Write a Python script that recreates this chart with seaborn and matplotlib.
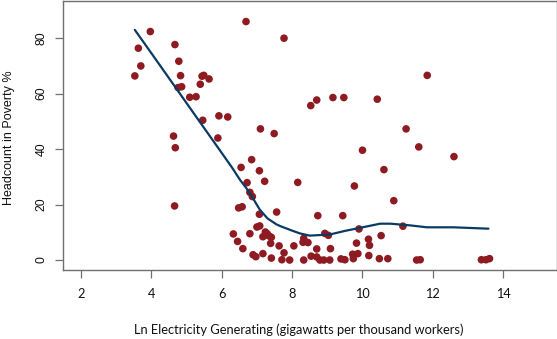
import matplotlib
matplotlib.use("Agg")
import matplotlib.pyplot as plt
import seaborn as sns
import pandas as pd

# Scatter data: Ln electricity generating vs headcount in poverty (%)
elec = [3.97, 3.63, 3.70, 3.53, 4.67, 4.78, 4.83, 4.76, 4.86, 5.39, 5.44, 5.49, 5.64,
        5.09, 5.27, 5.46, 5.92, 6.17, 4.63, 4.68, 5.89, 7.10, 7.49, 6.69, 7.77, 4.66,
        6.55, 6.85, 7.07, 7.22, 8.16, 6.72, 6.80, 6.87, 6.48, 6.58, 7.07, 7.56, 7.00,
        7.08, 6.33, 6.80, 7.24, 7.29, 7.17, 7.34, 7.41, 6.45, 7.39, 7.63, 8.05, 6.60,
        7.77, 6.89, 6.97, 7.17, 7.41, 7.71, 7.93, 11.84, 8.70, 8.53, 9.16, 9.47, 10.42,
        11.24, 11.60, 10.00, 12.60, 10.61, 9.77, 10.89, 8.73, 9.44, 11.15, 9.90, 8.93,
        9.03, 10.53, 8.33, 8.31, 8.45, 10.17, 10.20, 9.83, 8.70, 9.09, 9.72, 9.87, 8.54,
        8.70, 8.33, 8.79, 8.90, 9.07, 9.39, 9.50, 9.74, 10.18, 10.48, 10.72, 11.54,
        11.64, 13.38, 13.51, 13.61]
poverty = [82.4, 76.4, 70.0, 66.4, 77.7, 71.7, 66.5, 62.2, 62.5, 63.4, 66.3, 66.6, 65.3,
           58.7, 58.9, 50.4, 52.0, 51.6, 44.7, 40.5, 44.0, 47.3, 45.6, 86.0, 80.0, 19.5,
           33.4, 36.2, 32.2, 28.4, 28.0, 27.9, 24.4, 22.9, 18.8, 19.2, 16.5, 17.3, 11.9,
           12.3, 9.4, 9.5, 10.1, 9.5, 8.4, 8.7, 8.2, 6.7, 6.0, 5.1, 5.1, 4.1,
           2.6, 1.9, 1.2, 2.3, 0.7, 0.1, 0.0, 66.6, 57.7, 55.7, 58.6, 58.6, 58.0,
           47.3, 40.8, 39.6, 37.3, 32.6, 26.7, 21.4, 16.0, 16.0, 12.2, 11.2, 9.6,
           8.9, 8.8, 7.8, 6.4, 6.3, 7.5, 5.3, 6.1, 4.0, 4.1, 2.1, 2.3, 1.4,
           1.1, 0.0, 0.0, 0.0, 0.0, 0.4, 0.1, 0.5, 1.6, 0.5, 0.5, 0.0,
           0.1, 0.1, 0.1, 0.5]

# Smoothed fit line
fit_x = [3.53, 4.0, 4.5, 5.0, 5.5, 5.94, 6.3, 6.52, 6.7, 6.9, 7.08, 7.3, 7.55, 7.65,
         8.0, 8.22, 8.5, 9.07, 9.5, 9.93, 10.5, 10.8, 11.35, 11.83, 12.59, 13.58]
fit_y = [83.0, 74.6, 65.6, 56.6, 47.6, 39.7, 33.2, 28.9, 25.9, 22.0, 18.2, 15.0, 12.9, 12.3,
         10.6, 9.6, 8.8, 9.2, 10.5, 11.6, 13.1, 13.1, 12.5, 11.8, 11.8, 11.3]

x_ticks = [2, 4, 6, 8, 10, 12, 14]
y_ticks = [0, 20, 40, 60, 80]

sns.set_style("white")

W, H = 557, 339
fig = plt.figure(figsize=(W / 100, H / 100), dpi=100)
ax = fig.add_axes([62.7 / W, 1 - 270 / H, 494 / W, 269.5 / H])

pts = pd.DataFrame({"elec": elec, "poverty": poverty})
fit = pd.DataFrame({"x": fit_x, "y": fit_y})

sns.scatterplot(data=pts, x="elec", y="poverty", ax=ax, color="#8E1B21",
                s=30, edgecolor="none", linewidth=0, zorder=2)
sns.lineplot(data=fit, x="x", y="y", ax=ax, color="#0B3A64", linewidth=1.6,
             sort=False, estimator=None, zorder=3)

ax.set_xlim(1.48, 15.52)
ax.set_ylim(-3.6, 93.6)
ax.set_xticks(x_ticks)
ax.set_yticks(y_ticks)

spine_col = "#707070"
for sp in ax.spines.values():
    sp.set_visible(True)
    sp.set_color(spine_col)
    sp.set_linewidth(1.0)

ax.tick_params(axis="both", which="major", direction="out", length=5.5, width=0.9,
               color=spine_col, bottom=True, left=True)
ax.tick_params(axis="x", pad=7.5)
ax.tick_params(axis="y", pad=5.5)

for lab in ax.get_xticklabels():
    lab.set_fontfamily("Lato")
    lab.set_fontsize(9.2)
    lab.set_color("#111111")
for lab in ax.get_yticklabels():
    lab.set_fontfamily("Liberation Sans")
    lab.set_fontsize(8.8)
    lab.set_rotation(90)
    lab.set_va("center")
    lab.set_color("#111111")

ax.set_xlabel("Ln Electricity Generating (gigawatts per thousand workers)",
              fontfamily="Lato", fontsize=9.3, color="#111111")
ax.set_ylabel("Headcount in Poverty %", fontfamily="Liberation Sans", fontsize=9,
              color="#111111")
ax.xaxis.set_label_coords(0.478, -0.2)
ax.yaxis.set_label_coords(-0.097, 0.49)

fig.savefig("out.png", dpi=100)
